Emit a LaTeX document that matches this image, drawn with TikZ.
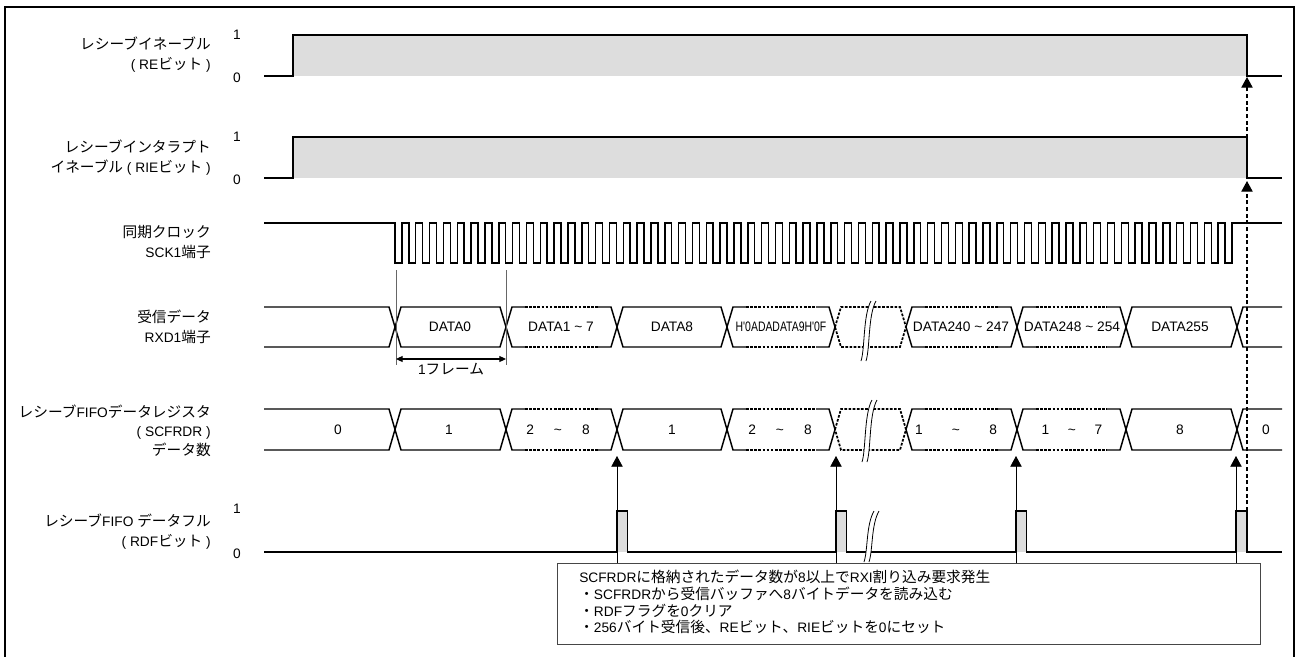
\documentclass[tikz,border=0pt]{standalone}
\usepackage{fontspec}
\usepackage{graphicx}
\setmainfont{Liberation Sans}
\newfontfamily\jpfont[Scale=1.07]{Noto Sans CJK JP}
\usetikzlibrary{arrows.meta}
\definecolor{sigfill}{RGB}{221,221,221}
\definecolor{boxline}{RGB}{70,70,70}
\newcommand{\jt}[1]{{\jpfont #1}}
\newcommand{\rng}[3]{#1\hspace{#3}\textasciitilde\hspace{#3}#2}
% bus segments: #1 left crossing, #2 right crossing, #3 top, #4 bottom
\newcommand{\busseg}[4]{\draw[sig] ({#1},{(#3+#4)/2}) -- ({#1+6},#3) -- ({#2-6},#3) -- ({#2},{(#3+#4)/2}) -- ({#2-6},#4) -- ({#1+6},#4) -- cycle;}
\newcommand{\dotseg}[4]{%
  \draw[sig] ({#1+19},#3) -- ({#1+6},#3) -- ({#1},{(#3+#4)/2}) -- ({#1+6},#4) -- ({#1+19},#4);
  \draw[sig] ({#2-19},#3) -- ({#2-6},#3) -- ({#2},{(#3+#4)/2}) -- ({#2-6},#4) -- ({#2-19},#4);
  \draw[sig,dotline] ({#1+19},#3) -- ({#2-19},#3);
  \draw[sig,dotline] ({#1+19},#4) -- ({#2-19},#4);}
\newcommand{\gapseg}[4]{\draw[sig,dotline] ({#1},{(#3+#4)/2}) -- ({#1+6},#3) -- ({#2-6},#3) -- ({#2},{(#3+#4)/2}) -- ({#2-6},#4) -- ({#1+6},#4) -- cycle;}
% break mark: #1 x, #2 top, #3 bottom
\newcommand{\brk}[3]{%
  \fill[white] (#1,#3) .. controls ({#1+4},{#3-12}) and ({#1+2},{#2+14}) .. ({#1+10},#2) -- ({#1+15},#2) .. controls ({#1+7},{#2+14}) and ({#1+9},{#3-12}) .. ({#1+5},#3) -- cycle;
  \draw[line width=0.6pt] (#1,#3) .. controls ({#1+4},{#3-12}) and ({#1+2},{#2+14}) .. ({#1+10},#2);
  \draw[line width=0.6pt] ({#1+5},#3) .. controls ({#1+9},{#3-12}) and ({#1+7},{#2+14}) .. ({#1+15},#2);}

\begin{document}
\begin{tikzpicture}[x=0.75pt,y=-0.75pt,
  sig/.style={line width=1.1pt},
  dotline/.style={line width=1.3pt, dash pattern=on 2pt off 1.1pt},
  lbl/.style={align=right, anchor=east, inner sep=0pt, font=\fontsize{10.3}{15}\selectfont},
  lvl/.style={inner sep=0pt, font=\fontsize{10.3}{12}\selectfont},
  val/.style={inner sep=0pt, font=\fontsize{10.3}{12}\selectfont},
  thinline/.style={line width=0.6pt, black!60},
  reqarrow/.style={line width=0.6pt, -{Triangle[length=8pt,width=8.5pt]}},
  donearrow/.style={line width=0.9pt, dash pattern=on 3pt off 2pt, -{Triangle[length=8pt,width=8.5pt]}},
  notebox/.style={draw=boxline, line width=0.8pt, minimum width=527.25pt, minimum height=60.75pt, anchor=north west, inner sep=0pt}]
\useasboundingbox (0,0) rectangle (1297,657);
% outer frame
\draw[line width=1.5pt] (5,657) -- (5,7) -- (1294,7) -- (1294,657);

% signal names
\node[lbl] (relabel) at (211,55) {\jt{レシーブイネーブル}\\( RE\jt{ビット} )};
\node[lbl] (rielabel) at (211,158) {\jt{レシーブインタラプト}\\\jt{イネーブル} ( RIE\jt{ビット} )};
\node[lbl] (scklabel) at (211,242) {\jt{同期クロック}\\SCK1\jt{端子}};
\node[lbl] (rxdlabel) at (211,327) {\jt{受信データ}\\RXD1\jt{端子}};
\node[lbl, font=\fontsize{10.3}{14.3}\selectfont] (fifolabel) at (211,431) {\jt{レシーブ}FIFO\jt{データレジスタ}\\( SCFRDR )\\\jt{データ数}};
\node[lbl] (rdflabel) at (211,532) {\jt{レシーブ}FIFO \jt{データフル}\\( RDF\jt{ビット} )};
% levels
\node[lvl] (rehi) at (237,35) {1};
\node[lvl] (relo) at (237,78) {0};
\node[lvl] (riehi) at (237,137) {1};
\node[lvl] (rielo) at (237,180) {0};
\node[lvl] (rdfhi) at (237,509) {1};
\node[lvl] (rdflo) at (237,554) {0};

% RE bit
\fill[sigfill] (293,35) rectangle (1247,76);
\draw[sig] (264,76) -- (293,76) -- (293,35) -- (1247,35) -- (1247,76) -- (1282,76);
% RIE bit
\fill[sigfill] (293,137) rectangle (1247,178);
\draw[sig] (264,178) -- (293,178) -- (293,137) -- (1247,137) -- (1247,178) -- (1282,178);

% clock
\def\p{13.835}
\draw[sig] (264,223) -- (395,223)
  \foreach \k in {0,...,60} { -- ({395+\k*\p},263) -- ({395+\k*\p+\p/2},263) -- ({395+\k*\p+\p/2},223) -- ({395+(\k+1)*\p},223) }
  -- (1282,223);

% receive data
\draw[sig] (264,307) -- (389,307) -- (395,327) -- (389,347) -- (264,347);
\busseg{395}{506}{307}{347}
\dotseg{506}{617}{307}{347}
\busseg{617}{727}{307}{347}
\dotseg{727}{835}{307}{347}
\gapseg{835}{906}{307}{347}
\dotseg{906}{1017}{307}{347}
\dotseg{1017}{1126}{307}{347}
\busseg{1126}{1237}{307}{347}
\draw[sig] (1282,307) -- (1243,307) -- (1237,327) -- (1243,347) -- (1282,347);
\brk{861}{301}{361}
\node[val] (data0) at (450,327) {DATA0};
\node[val] (data1) at (561,327) {DATA1 \textasciitilde{} 7};
\node[val] (data8) at (672,327) {DATA8};
\node[val] (data9) at (781,327) {\scalebox{0.76}[1]{H\textquotesingle 0ADADATA9H\textquotesingle 0F}};
\node[val] (data240) at (961,327) {DATA240 \textasciitilde{} 247};
\node[val] (data248) at (1072,327) {DATA248 \textasciitilde{} 254};
\node[val] (data255) at (1180,327) {DATA255};

% one frame
\draw[thinline] (396,270) -- (396,365);
\draw[thinline] (506,270) -- (506,365);
\draw[line width=0.8pt, {Triangle[length=5pt,width=4.5pt]}-{Triangle[length=5pt,width=4.5pt]}] (396,359) -- (506,359);
\node[val] (frame) at (451,369) {1\jt{フレーム}};

% FIFO data count
\draw[sig] (264,409) -- (389,409) -- (395,429.5) -- (389,450) -- (264,450);
\busseg{395}{506}{409}{450}
\dotseg{506}{617}{409}{450}
\busseg{617}{727}{409}{450}
\dotseg{727}{835}{409}{450}
\gapseg{835}{906}{409}{450}
\dotseg{906}{1017}{409}{450}
\dotseg{1017}{1126}{409}{450}
\busseg{1126}{1237}{409}{450}
\draw[sig] (1282,409) -- (1243,409) -- (1237,429.5) -- (1243,450) -- (1282,450);
\brk{862}{400}{462}
\node[val] (cnt0) at (338,429.5) {0};
\node[val] (cnt1) at (449,429.5) {1};
\node[val] (cnt2) at (558,429.5) {\rng{2}{8}{15pt}};
\node[val] (cnt3) at (672,429.5) {1};
\node[val] (cnt4) at (780,429.5) {\rng{2}{8}{15pt}};
\node[val] (cnt5) at (956,429.5) {\rng{1}{8}{22pt}};
\node[val] (cnt6) at (1072,429.5) {\rng{1}{7}{14pt}};
\node[val] (cnt7) at (1180,429.5) {8};
\node[val] (cnt8) at (1266,429.5) {0};

% RDF bit
\foreach \x in {617,836,1016,1236} {
  \fill[sigfill] (\x,511) rectangle ({\x+10.5},552);
}
\draw[sig] (264,552) -- (617,552) -- (617,511) -- (627.5,511) -- (627.5,552)
  -- (836,552) -- (836,511) -- (846.5,511) -- (846.5,552)
  -- (1016,552) -- (1016,511) -- (1026.5,511) -- (1026.5,552)
  -- (1236,552) -- (1236,511) -- (1247,511) -- (1247,552) -- (1282,552);
\brk{864}{511}{562}

% note and request arrows
\node[notebox] (notebox) at (557,563) {};
\node[inner sep=0pt, anchor=west, align=left, font=\fontsize{10.3}{12.6}\selectfont] (notetext) at (579,602)
  {SCFRDR\jt{に格納されたデータ数が}8\jt{以上で}RXI\jt{割り込み要求発生}\\
   \jt{・}SCFRDR\jt{から受信バッファへ}8\jt{バイトデータを読み込む}\\
   \jt{・}RDF\jt{フラグを}0\jt{クリア}\\
   \jt{・}256\jt{バイト受信後、}RE\jt{ビット、}RIE\jt{ビットを}0\jt{にセット}};
\coordinate (req1) at (617,456);
\coordinate (req2) at (836,456);
\coordinate (req3) at (1016,456);
\coordinate (req4) at (1236,456);
\foreach \r in {req1,req2,req3,req4} {
  \draw[reqarrow] (notebox.north -| \r) -- (\r);
}

% RE / RIE cleared
\coordinate (rdflast) at (1247,511);
\coordinate (riefall) at (1247,181);
\coordinate (rielow) at (1247,178);
\coordinate (refall) at (1247,77);
\draw[donearrow] (rdflast) -- (riefall);
\draw[donearrow] (rielow) -- (refall);
\end{tikzpicture}
\end{document}
